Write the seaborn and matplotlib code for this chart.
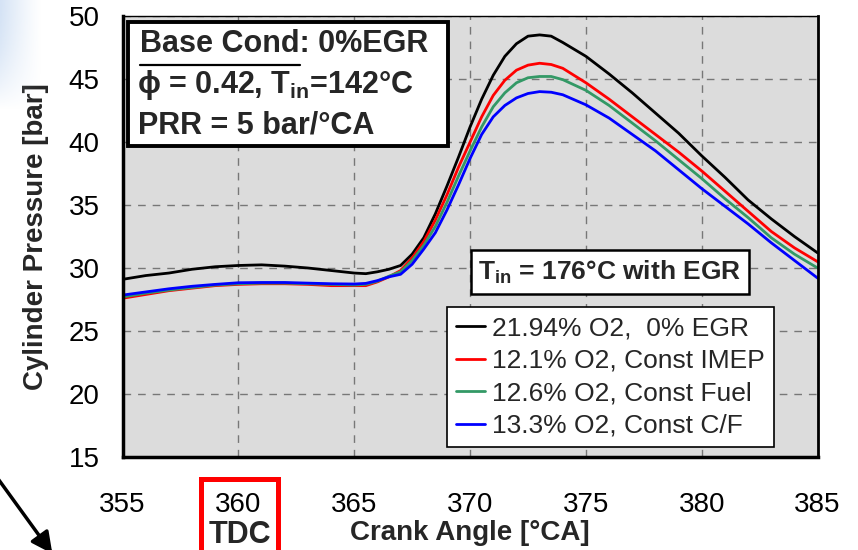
import numpy as np
import pandas as pd
import matplotlib
matplotlib.use("Agg")
import matplotlib.pyplot as plt
from matplotlib.patches import Rectangle, FancyArrowPatch
from matplotlib.lines import Line2D
import seaborn as sns

# ---------------- data ----------------
crank_angle = [355, 356, 357, 358, 359, 360, 361, 362, 363, 364, 365, 365.5, 366, 366.5,
               367, 367.5, 368, 368.5, 369, 369.5, 370, 370.5, 371, 371.5, 372, 372.5,
               373, 373.5, 374, 375, 376, 377, 378, 379, 380, 381, 382, 383, 384, 385]

p_black = [29.1, 29.4, 29.6, 29.9, 30.1, 30.2, 30.25, 30.15, 30.0, 29.8, 29.6, 29.55, 29.7, 29.9,
           30.2, 31.1, 32.4, 34.3, 36.5, 38.8, 41.2, 43.4, 45.3, 46.8, 47.8, 48.4,
           48.5, 48.4, 47.9, 46.8, 45.4, 43.9, 42.3, 40.7, 38.9, 37.2, 35.4, 33.9, 32.5, 31.2]

p_red = [27.6, 27.9, 28.2, 28.4, 28.6, 28.7, 28.75, 28.75, 28.7, 28.6, 28.6, 28.6, 28.9, 29.3,
         29.8, 30.8, 32.1, 33.8, 35.8, 38.0, 40.0, 42.0, 43.7, 44.9, 45.7, 46.1,
         46.25, 46.15, 45.85, 44.7, 43.4, 42.0, 40.6, 39.2, 37.7, 36.1, 34.5, 32.9, 31.6, 30.5]

p_green = [27.7, 28.0, 28.25, 28.45, 28.65, 28.75, 28.8, 28.8, 28.75, 28.7, 28.65, 28.7, 28.95, 29.35,
           29.7, 30.6, 31.8, 33.3, 35.2, 37.3, 39.3, 41.2, 42.8, 43.9, 44.7, 45.1,
           45.2, 45.2, 44.95, 44.1, 42.9, 41.5, 40.1, 38.6, 37.1, 35.5, 34.0, 32.4, 31.1, 30.0]

p_blue = [27.85, 28.1, 28.35, 28.55, 28.7, 28.83, 28.85, 28.85, 28.8, 28.75, 28.73, 28.78, 29.0, 29.3,
          29.5, 30.3, 31.5, 32.8, 34.6, 36.6, 38.7, 40.6, 42.0, 42.9, 43.5, 43.85,
          44.0, 43.95, 43.75, 42.95, 41.9, 40.6, 39.3, 37.8, 36.3, 34.9, 33.5, 32.0, 30.6, 29.2]

series_labels = ["21.94% O2,  0% EGR", "12.1% O2, Const IMEP",
                 "12.6% O2, Const Fuel", "13.3% O2, Const C/F"]
series_colors = ["#000000", "#ff0000", "#339966", "#0000ff"]

x_ticks = [355, 360, 365, 370, 375, 380, 385]
y_ticks = [15, 20, 25, 30, 35, 40, 45, 50]

# ---------------- style ----------------
sns.set_style("white")
plt.rcParams['font.family'] = ['Liberation Sans', 'DejaVu Sans']
plt.rcParams['mathtext.fontset'] = 'custom'
plt.rcParams['mathtext.rm'] = 'Liberation Sans:bold'
plt.rcParams['mathtext.it'] = 'Liberation Sans:bold'
plt.rcParams['mathtext.bf'] = 'Liberation Sans:bold'
plt.rcParams['mathtext.default'] = 'rm'

W, H = 858, 550
fig = plt.figure(figsize=(W / 100, H / 100), dpi=100)
fig.patch.set_facecolor('white')

def fx(x):
    return x / W

def fy(y):
    return 1 - y / H

ax_left, ax_right, ax_top, ax_bottom = 122.6, 817.6, 16, 457
ax = fig.add_axes([fx(ax_left), fy(ax_bottom), (ax_right - ax_left) / W, (ax_bottom - ax_top) / H])
ax.set_facecolor('#dcdcdc')

frames = []
for lab, vals in zip(series_labels, [p_black, p_red, p_green, p_blue]):
    frames.append(pd.DataFrame({"angle": crank_angle, "pressure": vals, "series": lab}))
df = pd.concat(frames, ignore_index=True)

sns.lineplot(data=df, x="angle", y="pressure", hue="series", hue_order=series_labels,
             palette=series_colors, linewidth=2.0, estimator=None, legend=False, ax=ax)

ax.set_xlim(355, 385)
ax.set_ylim(15, 50)
ax.set_xticks(x_ticks)
ax.set_yticks(y_ticks)
ax.set_xticklabels([str(t) for t in x_ticks])
ax.set_yticklabels([str(t) for t in y_ticks])
ax.set_axisbelow(True)
ax.grid(True, color='#777777', linestyle=(0, (5.5, 5)), linewidth=1.0)
ax.tick_params(axis='both', direction='inout', length=9, width=1.5, labelsize=20, colors='black')
ax.tick_params(axis='x', pad=21)
ax.tick_params(axis='y', pad=12)

for side, lw in [('left', 2.5), ('bottom', 2.5), ('right', 2.0), ('top', 1.0)]:
    ax.spines[side].set_visible(True)
    ax.spines[side].set_color('black')
    ax.spines[side].set_linewidth(lw)

ax.set_xlabel("Crank Angle [°CA]", fontsize=20, fontweight='bold')
ax.set_ylabel("Cylinder Pressure [bar]", fontsize=20, fontweight='bold')
xl = ax.xaxis.label
xl.set_verticalalignment('center')
ax.xaxis.set_label_coords(0.5, (ax_bottom - 533) / (ax_bottom - ax_top))
ax.yaxis.set_label_coords((49 - ax_left) / (ax_right - ax_left), 0.5)

# legend
handles = [Line2D([0], [0], color=c, lw=2.0) for c in series_colors]
leg = ax.legend(handles, series_labels, loc='lower left',
                bbox_to_anchor=((447 - ax_left) / (ax_right - ax_left), (ax_bottom - 447) / (ax_bottom - ax_top)),
                borderaxespad=0, frameon=True, fancybox=False, framealpha=1,
                edgecolor='black', facecolor='white', fontsize=19,
                handlelength=1.1, handletextpad=0.25, labelspacing=0.32, borderpad=0.35)
leg.get_frame().set_linewidth(1.2)

# base condition box
fig.patches.append(Rectangle((fx(128), fy(146)), fx(448) - fx(128), fy(22) - fy(146),
                             transform=fig.transFigure, facecolor='white', edgecolor='black',
                             linewidth=2.8, zorder=2))
t1 = fig.text(fx(140), fy(52), "Base Cond: 0%EGR", fontsize=22, fontweight='bold',
              va='baseline', ha='left', zorder=4)
t1u = fig.text(fx(140), fy(52), "Base Cond", fontsize=22, fontweight='bold',
               va='baseline', ha='left', zorder=4, alpha=0)
fig.text(fx(137), fy(93), "ϕ = 0.42, T$_{in}$=142°C", fontsize=22, fontweight='bold',
         va='baseline', ha='left', zorder=4)
fig.text(fx(138), fy(133), "PRR = 5 bar/°CA", fontsize=22, fontweight='bold',
         va='baseline', ha='left', zorder=4)

fig.canvas.draw()
bb = t1u.get_window_extent()
fig.lines.append(Line2D([bb.x0 / W, bb.x1 / W], [fy(65), fy(65)], transform=fig.transFigure,
                        color='black', linewidth=1.6, zorder=4))

# T_in box
fig.text(fx(610), fy(272), "T$_{in}$ = 176°C with EGR", fontsize=19, fontweight='bold',
         ha='center', va='center', zorder=4,
         bbox=dict(boxstyle='square,pad=0.3', facecolor='white', edgecolor='black', linewidth=1.8))

# TDC box
fig.text(fx(240), fy(535), "TDC", fontsize=22, fontweight='bold', ha='center', va='center', zorder=4)
fig.patches.append(Rectangle((fx(201), fy(560)), fx(278) - fx(201), fy(479) - fy(560),
                             transform=fig.transFigure, facecolor='none', edgecolor='#ff0000',
                             linewidth=3.6, zorder=3, clip_on=False))

# arrow bottom-left
fig.add_artist(FancyArrowPatch(
    (fx(-4), fy(476)), (fx(54), fy(556)), transform=fig.transFigure,
    arrowstyle='-|>', mutation_scale=32, linewidth=2.5, color='black', zorder=4))

# faint blue decoration top-left
gax = fig.add_axes([0, fy(110), fx(42), 110 / H])
gx = np.linspace(0, 1, 60)
gy = np.linspace(0, 1, 80)
GX, GY = np.meshgrid(gx, gy)
alpha = np.clip(1 - GX, 0, 1) ** 1.2 * np.clip(1 - GY ** 2, 0, 1) * 0.55
img = np.zeros((80, 60, 4))
img[..., 0] = 0.70
img[..., 1] = 0.80
img[..., 2] = 0.93
img[..., 3] = alpha
gax.imshow(img, aspect='auto', extent=[0, 1, 0, 1])
gax.axis('off')

fig.savefig("out.png", dpi=100)
